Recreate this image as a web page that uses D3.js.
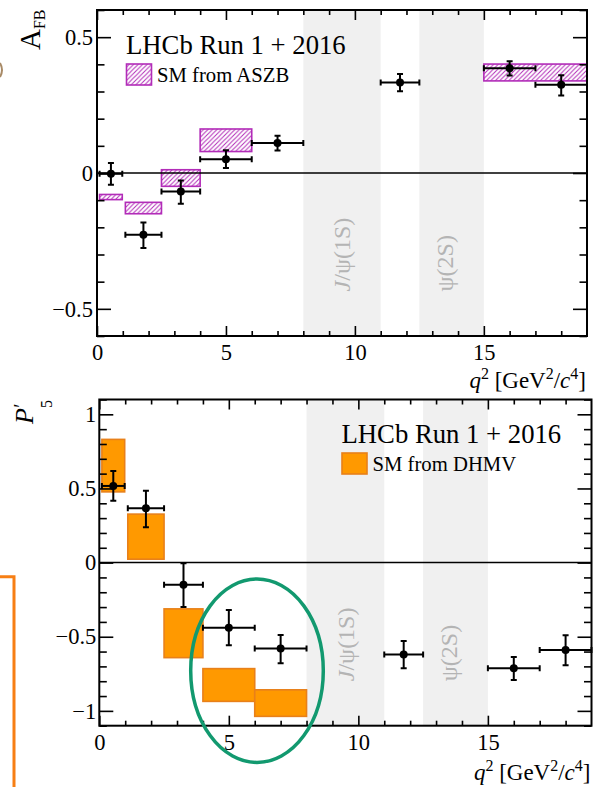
<!DOCTYPE html>
<html>
<head>
<meta charset="utf-8">
<script src="https://cdn.jsdelivr.net/npm/d3@7"></script>
<style>
	html, body { margin: 0; padding: 0; background: #fff; }
	svg { display: block; font-family: 'Liberation Serif', 'Times New Roman', serif; }
</style>
</head>
<body>
<svg id="chart" width="594" height="787"></svg>
<script>
'use strict';

// q2 bins of the measurement
var binLo = [0.1, 1.1, 2.5, 4, 6, 11, 15, 17];
var binHi = [0.98, 2.5, 4, 6, 8, 12.5, 17, 19];
var pointX = [0.54, 1.8, 3.25, 5, 7, 11.75, 16, 18];

// A_FB data
var afb = [-0.003, -0.227, -0.068, 0.051, 0.110, 0.333, 0.386, 0.325];
var afbUp = [0.04, 0.045, 0.04, 0.033, 0.027, 0.031, 0.025, 0.035];
var afbDn = [0.04, 0.049, 0.045, 0.033, 0.027, 0.032, 0.027, 0.04];

// P5' data
var p5 = [0.517, 0.366, -0.149, -0.44, -0.58, -0.619, -0.713, -0.59];
var p5Up = [0.1, 0.118, 0.145, 0.12, 0.092, 0.09, 0.076, 0.1];
var p5Dn = [0.1, 0.128, 0.15, 0.118, 0.098, 0.094, 0.078, 0.103];

// SM predictions
var smAfbLo = [0.1, 1.1, 2.5, 4, 15];
var smAfbHi = [0.98, 2.5, 4, 6, 19];
var smAfbMin = [-0.098, -0.150, -0.049, 0.079, 0.339];
var smAfbMax = [-0.079, -0.108, 0.012, 0.162, 0.401];

var smP5Lo = [0.1, 1.1, 2.5, 4, 6];
var smP5Hi = [0.98, 2.5, 4, 6, 8];
var smP5Min = [0.477, 0.023, -0.641, -0.936, -1.037];
var smP5Max = [0.831, 0.327, -0.312, -0.715, -0.858];

// charmonium vetoes
var vetoLo = [8, 12.5];
var vetoHi = [11, 15];
var vetoNames = [['J', '/ψ(1S)'], ['', 'ψ(2S)']];
var vetoLabelX = [9.82, 13.82];

var xMajor = [0, 5, 10, 15];

var serif = "'Liberation Serif', 'Times New Roman', serif";

var svg = d3.select('#chart');
var defs = svg.append('defs');

var hatch = defs.append('pattern')
	.attr('id', 'hatch')
	.attr('patternUnits', 'userSpaceOnUse')
	.attr('width', 4.5)
	.attr('height', 4.5);
hatch.append('rect').attr('width', 4.5).attr('height', 4.5).attr('fill', '#fff');
hatch.append('path')
	.attr('d', 'M-1,1 L1,-1 M0,4.5 L4.5,0 M3.5,5.5 L5.5,3.5')
	.attr('stroke', '#b22cb8')
	.attr('stroke-width', 1);

var drawPanel = function(cfg) {
	var x = d3.scaleLinear().domain([0, 19]).range([cfg.left, cfg.right]);
	var y = d3.scaleLinear().domain(cfg.yDomain).range([cfg.bottom, cfg.top]);
	var g = svg.append('g');
	var fmt = d3.format('~g');

	// veto bands
	g.selectAll('rect.veto')
		.data(vetoLo)
		.enter()
		.append('rect')
		.attr('class', 'veto')
		.attr('x', function(d) { return x(d); })
		.attr('width', function(d, i) { return x(vetoHi[i]) - x(d); })
		.attr('y', cfg.top)
		.attr('height', cfg.bottom - cfg.top)
		.attr('fill', '#f0f0f0');

	var labels = g.selectAll('text.veto')
		.data(vetoNames)
		.enter()
		.append('text')
		.attr('class', 'veto')
		.attr('transform', function(d, i) {
			return 'translate(' + x(vetoLabelX[i]) + ',' + y(cfg.vetoLabelY) + ') rotate(-90)';
		})
		.style('font-family', serif)
		.style('font-size', '24px')
		.attr('fill', '#b4b4b4');
	labels.append('tspan').attr('font-style', 'italic').text(function(d) { return d[0]; });
	labels.append('tspan').text(function(d) { return d[1]; });

	// SM boxes
	g.selectAll('rect.sm')
		.data(cfg.smLo)
		.enter()
		.append('rect')
		.attr('class', 'sm')
		.attr('x', function(d) { return x(d); })
		.attr('width', function(d, i) { return x(cfg.smHi[i]) - x(d); })
		.attr('y', function(d, i) { return y(cfg.smMax[i]); })
		.attr('height', function(d, i) { return y(cfg.smMin[i]) - y(cfg.smMax[i]); })
		.attr('fill', cfg.smFill)
		.attr('stroke', cfg.smStroke)
		.attr('stroke-width', 1.6);

	// zero line
	g.append('line')
		.attr('x1', cfg.left).attr('x2', cfg.right)
		.attr('y1', y(0)).attr('y2', y(0))
		.attr('stroke', '#000').attr('stroke-width', 1.5);

	// data points
	var pts = g.selectAll('g.pt')
		.data(cfg.values)
		.enter()
		.append('g')
		.attr('class', 'pt')
		.attr('stroke', '#000')
		.attr('stroke-width', 2);
	pts.append('line')
		.attr('x1', function(d, i) { return x(binLo[i]); })
		.attr('x2', function(d, i) { return x(binHi[i]); })
		.attr('y1', function(d) { return y(d); })
		.attr('y2', function(d) { return y(d); });
	pts.append('line')
		.attr('x1', function(d, i) { return x(pointX[i]); })
		.attr('x2', function(d, i) { return x(pointX[i]); })
		.attr('y1', function(d, i) { return y(d + cfg.up[i]); })
		.attr('y2', function(d, i) { return y(d - cfg.dn[i]); });
	pts.append('path')
		.attr('fill', 'none')
		.attr('d', function(d, i) {
			var cx = x(pointX[i]), cy = y(d);
			var xl = x(binLo[i]), xr = x(binHi[i]);
			var yt = y(d + cfg.up[i]), yb = y(d - cfg.dn[i]);
			return 'M' + xl + ',' + (cy - 3) + 'V' + (cy + 3) +
				'M' + xr + ',' + (cy - 3) + 'V' + (cy + 3) +
				'M' + (cx - 3) + ',' + yt + 'H' + (cx + 3) +
				'M' + (cx - 3) + ',' + yb + 'H' + (cx + 3);
		});
	pts.append('circle')
		.attr('cx', function(d, i) { return x(pointX[i]); })
		.attr('cy', function(d) { return y(d); })
		.attr('r', 4)
		.attr('fill', '#000')
		.attr('stroke', 'none');

	// axes, ROOT style ticks on all four sides
	var xMinor = d3.range(1, 19).filter(function(v) { return v % 5 !== 0; });
	var yMinor = d3.range(Math.round(cfg.yDomain[0] * 10), Math.round(cfg.yDomain[1] * 10) + 1)
		.filter(function(v) { return v % 5 !== 0; })
		.map(function(v) { return v / 10; });

	var axes = [
		[d3.axisBottom(x).tickValues(xMajor).tickSize(-10).tickPadding(8).tickFormat(fmt), 'translate(0,' + cfg.bottom + ')'],
		[d3.axisBottom(x).tickValues(xMinor).tickSize(-5).tickFormat(''), 'translate(0,' + cfg.bottom + ')'],
		[d3.axisTop(x).tickValues(xMajor).tickSize(-10).tickFormat(''), 'translate(0,' + cfg.top + ')'],
		[d3.axisTop(x).tickValues(xMinor).tickSize(-5).tickFormat(''), 'translate(0,' + cfg.top + ')'],
		[d3.axisLeft(y).tickValues(cfg.yMajor).tickSize(-14).tickPadding(cfg.yPad).tickFormat(fmt), 'translate(' + cfg.left + ',0)'],
		[d3.axisLeft(y).tickValues(yMinor).tickSize(-7.5).tickFormat(''), 'translate(' + cfg.left + ',0)'],
		[d3.axisRight(y).tickValues(cfg.yMajor).tickSize(-14).tickFormat(''), 'translate(' + cfg.right + ',0)'],
		[d3.axisRight(y).tickValues(yMinor).tickSize(-7.5).tickFormat(''), 'translate(' + cfg.right + ',0)']
	];
	axes.forEach(function(a) {
		var ag = g.append('g').attr('transform', a[1]).call(a[0].tickSizeOuter(0));
		ag.attr('font-family', null).attr('font-size', null);
		ag.select('.domain').remove();
		ag.selectAll('line').attr('stroke', '#000').attr('stroke-width', 1.6);
		ag.selectAll('text')
			.style('font-family', serif)
			.style('font-size', '22.5px')
			.attr('fill', '#000');
	});

	g.append('rect')
		.attr('x', cfg.left).attr('y', cfg.top)
		.attr('width', cfg.right - cfg.left).attr('height', cfg.bottom - cfg.top)
		.attr('fill', 'none').attr('stroke', '#000').attr('stroke-width', 2);

	// legend
	g.append('text')
		.attr('x', cfg.legendX).attr('y', cfg.legendY)
		.style('font-family', serif)
		.style('font-size', '26.7px')
		.text('LHCb Run 1 + 2016');
	g.append('rect')
		.attr('x', cfg.legendX + 0.5).attr('y', cfg.legendY + 10)
		.attr('width', 25).attr('height', 21)
		.attr('fill', cfg.smFill).attr('stroke', cfg.smStroke).attr('stroke-width', 1.6);
	g.append('text')
		.attr('x', cfg.legendX + 31).attr('y', cfg.legendY + 28)
		.style('font-family', serif)
		.style('font-size', '20.7px')
		.text(cfg.smName);

	// x title
	var xt = g.append('text')
		.attr('x', cfg.right - 1).attr('y', cfg.xTitleY)
		.attr('text-anchor', 'end')
		.style('font-family', serif)
		.style('font-size', '23px');
	xt.append('tspan').attr('font-style', 'italic').text('q');
	xt.append('tspan').style('font-size', '16px').attr('dy', -9).text('2');
	xt.append('tspan').attr('dy', 9).text(' [GeV');
	xt.append('tspan').style('font-size', '16px').attr('dy', -9).text('2');
	xt.append('tspan').attr('dy', 9).text('/');
	xt.append('tspan').attr('font-style', 'italic').text('c');
	xt.append('tspan').style('font-size', '16px').attr('dy', -9).text('4');
	xt.append('tspan').attr('dy', 9).text(']');

	return g;
};

drawPanel({
	left: 97, right: 587, top: 10, bottom: 336,
	yDomain: [-0.6, 0.6], yMajor: [-0.5, 0, 0.5], yPad: 4,
	values: afb, up: afbUp, dn: afbDn,
	smLo: smAfbLo, smHi: smAfbHi, smMin: smAfbMin, smMax: smAfbMax,
	smFill: 'url(#hatch)', smStroke: '#b22cb8', smName: 'SM from ASZB',
	vetoLabelY: -0.436,
	legendX: 126, legendY: 54,
	xTitleY: 388
});

drawPanel({
	left: 99.3, right: 591.5, top: 399.5, bottom: 725.7,
	yDomain: [-1.1, 1.1], yMajor: [-1, -0.5, 0, 0.5, 1], yPad: 3,
	values: p5, up: p5Up, dn: p5Dn,
	smLo: smP5Lo, smHi: smP5Hi, smMin: smP5Min, smMax: smP5Max,
	smFill: '#ff9900', smStroke: '#e8801a', smName: 'SM from DHMV',
	vetoLabelY: -0.8,
	legendX: 341.5, legendY: 443,
	xTitleY: 780
});

// y titles
var afbTitle = svg.append('text')
	.attr('transform', 'translate(40,50) rotate(-90)')
	.style('font-family', serif)
	.style('font-size', '29px');
afbTitle.append('tspan').text('A');
afbTitle.append('tspan').style('font-size', '16px').attr('dy', 5).text('FB');

var p5Title = svg.append('text')
	.attr('transform', 'translate(33,424) rotate(-90)')
	.style('font-family', serif)
	.style('font-size', '26px');
p5Title.append('tspan').attr('font-style', 'italic').attr('x', 0).attr('y', 0).text('P');
p5Title.append('tspan').attr('font-style', 'italic').style('font-size', '20px').attr('x', 15).attr('y', -5).text('\u2032');
p5Title.append('tspan').style('font-size', '16px').attr('x', 16).attr('y', 19).text('5');

// annotations around the figure
svg.append('ellipse')
	.attr('cx', 257).attr('cy', 670.7)
	.attr('rx', 66.3).attr('ry', 91.7)
	.attr('fill', 'none')
	.attr('stroke', '#12996f')
	.attr('stroke-width', 3.5);

svg.append('path')
	.attr('d', 'M0,576.7 H14 V787')
	.attr('fill', 'none')
	.attr('stroke', '#f77f14')
	.attr('stroke-width', 3);

svg.append('path')
	.attr('d', 'M0,63 Q4,70 0,77')
	.attr('fill', 'none')
	.attr('stroke', '#a88a66')
	.attr('stroke-width', 2);
</script>
</body>
</html>
